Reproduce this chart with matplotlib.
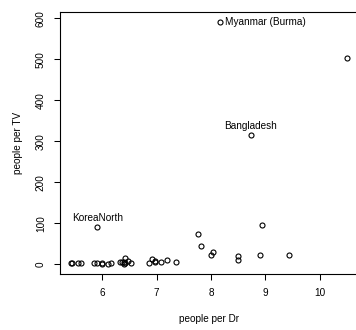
import matplotlib
matplotlib.use("Agg")
import matplotlib.pyplot as plt

plt.rcParams['font.family'] = ['Liberation Sans', 'DejaVu Sans']

countries = ["Argentina", "Bangladesh", "Brazil", "Canada", "China", "Colombia", "Egypt",
             "Ethiopia", "France", "Germany", "India", "Indonesia", "Iran", "Italy", "Japan",
             "Kenya", "KoreaNorth", "KoreaSouth", "Mexico", "Morocco", "Myanmar (Burma)",
             "Pakistan", "Peru", "Philippines", "Poland", "Romania", "Russia", "SouthAfrica",
             "Spain", "Sudan", "Taiwan", "Thailand", "Turkey", "Ukraine", "UK", "US",
             "Venezuela", "Vietnam"]
# log of people per doctor (as plotted)
people_per_dr = [5.91, 8.73, 6.53, 6.11, 6.47, 7.35, 6.42,
                 10.51, 6.00, 5.85, 7.81, 8.91, 8.00, 5.45, 6.41,
                 8.94, 5.91, 6.97, 6.40, 8.49, 8.16,
                 7.77, 6.92, 6.97, 6.17, 6.33, 5.56, 7.20,
                 5.62, 9.44, 6.87, 8.49, 7.08, 5.42, 6.42, 6.00,
                 6.36, 8.04]
people_per_tv = [4, 315, 4, 1.7, 8, 5.6, 15,
                 503, 2.6, 2.6, 44, 24, 23, 3.8, 1.8,
                 96, 90, 4.9, 6.6, 21, 592,
                 73, 14, 8.8, 3.9, 6, 3.2, 11,
                 2.6, 23, 3.2, 11, 5, 3, 3, 1.3,
                 5.6, 29]
labels_above = ["Bangladesh", "KoreaNorth"]
labels_right = ["Myanmar (Burma)"]
x_ticks = [6, 7, 8, 9, 10]
y_ticks = [0, 100, 200, 300, 400, 500, 600]

fig = plt.figure(figsize=(3.56, 3.30), dpi=100)
ax = fig.add_axes([59.5/356, (330-273.5)/330, (358.5-59.5)/356, 261.5/330])

ax.plot(people_per_dr, people_per_tv, linestyle='none', marker='o', markersize=3.6,
        markerfacecolor='none', markeredgecolor='black', markeredgewidth=0.8)
ax.margins(x=0.04, y=0.04)

fs = 7.2
for c, x, y in zip(countries, people_per_dr, people_per_tv):
    if c in labels_above:
        ax.annotate(c, (x, y), xytext=(0, 7), textcoords='offset points',
                    ha='center', va='center', fontsize=fs)
    elif c in labels_right:
        ax.annotate(c, (x, y), xytext=(4, 0), textcoords='offset points',
                    ha='left', va='center', fontsize=fs)

ax.set_xticks(x_ticks)
ax.set_yticks(y_ticks)
ax.tick_params(axis='both', direction='out', length=4.3, width=0.75, labelsize=fs, pad=6)
ax.tick_params(axis='y', labelrotation=90, pad=5.5)
for lab in ax.get_yticklabels():
    lab.set_va('center')
for s in ax.spines.values():
    s.set_linewidth(0.8)

ax.set_xlabel("people per Dr", fontsize=fs, labelpad=12)
ax.set_ylabel("people per TV", fontsize=fs, labelpad=9)

fig.savefig("out.png", dpi=100)
